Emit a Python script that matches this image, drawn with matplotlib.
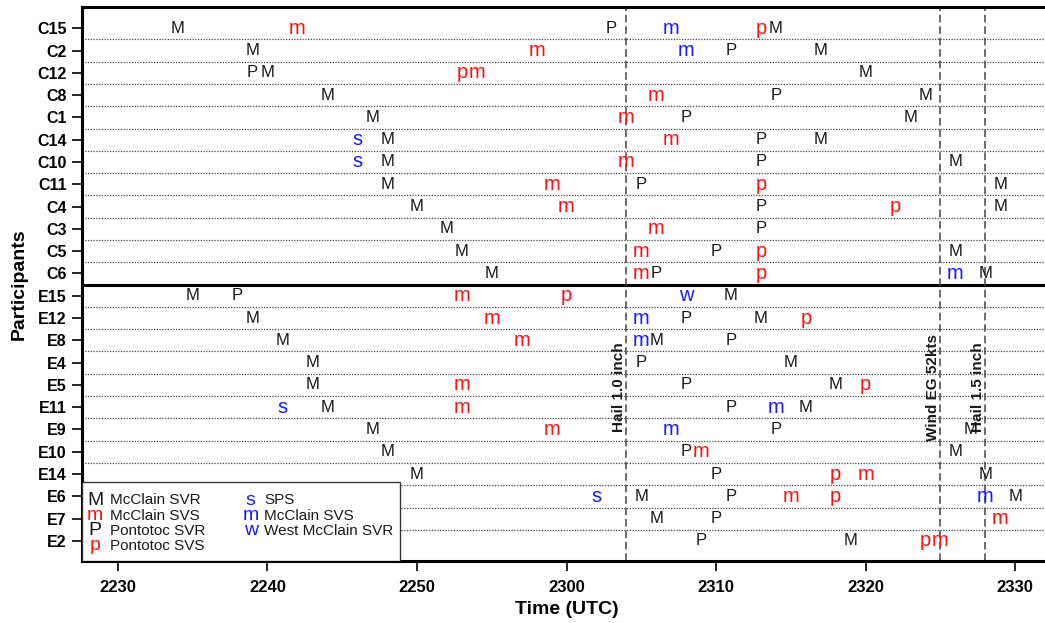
import matplotlib
matplotlib.use("Agg")
import matplotlib.pyplot as plt
from matplotlib.patches import Rectangle

plt.rcParams['font.family'] = ['Liberation Sans', 'DejaVu Sans']

# participants, top to bottom
participants = ['C15', 'C2', 'C12', 'C8', 'C1', 'C14', 'C10', 'C11', 'C4', 'C3', 'C5', 'C6',
                'E15', 'E12', 'E8', 'E4', 'E5', 'E11', 'E9', 'E10', 'E14', 'E6', 'E7', 'E2']

# times (HHMM UTC) at which each product was seen, per participant
mcclain_svr = {
    'C15': [2234, 2314], 'C2': [2239, 2317], 'C12': [2240, 2320], 'C8': [2244, 2324],
    'C1': [2247, 2323], 'C14': [2248, 2317], 'C10': [2248, 2326], 'C11': [2248, 2329],
    'C4': [2250, 2329], 'C3': [2252], 'C5': [2253, 2326], 'C6': [2255, 2328],
    'E15': [2235, 2311], 'E12': [2239, 2313], 'E8': [2241, 2306], 'E4': [2243, 2315],
    'E5': [2243, 2318], 'E11': [2244, 2316], 'E9': [2247, 2327], 'E10': [2248, 2326],
    'E14': [2250, 2328], 'E6': [2305, 2330], 'E7': [2306], 'E2': [2319],
}
mcclain_svs = {
    'C15': [2242], 'C2': [2258], 'C12': [2254], 'C8': [2306], 'C1': [2304], 'C14': [2307],
    'C10': [2304], 'C11': [2259], 'C4': [2300], 'C3': [2306], 'C5': [2305], 'C6': [2305],
    'E15': [2253], 'E12': [2255], 'E8': [2257], 'E5': [2253], 'E11': [2253], 'E9': [2259],
    'E10': [2309], 'E14': [2320], 'E6': [2315], 'E7': [2329], 'E2': [2325],
}
pontotoc_svr = {
    'C15': [2303], 'C2': [2311], 'C12': [2239], 'C8': [2314], 'C1': [2308], 'C14': [2313],
    'C10': [2313], 'C11': [2305], 'C4': [2313], 'C3': [2313], 'C5': [2310], 'C6': [2306],
    'E15': [2238], 'E12': [2308], 'E8': [2311], 'E4': [2305], 'E5': [2308], 'E11': [2311],
    'E9': [2314], 'E10': [2308], 'E14': [2310], 'E6': [2311], 'E7': [2310], 'E2': [2309],
}
pontotoc_svs = {
    'C15': [2313], 'C12': [2253], 'C11': [2313], 'C4': [2322], 'C5': [2313], 'C6': [2313],
    'E15': [2300], 'E12': [2316], 'E5': [2320], 'E14': [2318], 'E6': [2318], 'E2': [2324],
}
sps = {'C14': [2246], 'C10': [2246], 'E11': [2241], 'E6': [2302]}
mcclain_svs_blue = {
    'C15': [2307], 'C2': [2308], 'C6': [2326], 'E12': [2305], 'E8': [2305],
    'E11': [2314], 'E9': [2307], 'E6': [2328],
}
west_mcclain_svr = {'E15': [2308]}

# observed storm reports
report_labels = ['Hail 1.0 inch', 'Wind EG 52kts', 'Hail 1.5 inch']
report_times = [2304, 2325, 2328]

tick_times = [2230, 2240, 2250, 2300, 2310, 2320, 2330]

BLACK = '#1a1a1a'
RED = '#ff1010'
BLUE = '#1a1aff'

products = [
    (mcclain_svr, 'M', BLACK, 12, 'McClain SVR'),
    (mcclain_svs, 'm', RED, 14.5, 'McClain SVS'),
    (pontotoc_svr, 'P', BLACK, 12, 'Pontotoc SVR'),
    (pontotoc_svs, 'p', RED, 14.5, 'Pontotoc SVS'),
    (sps, 's', BLUE, 14.5, 'SPS'),
    (mcclain_svs_blue, 'm', BLUE, 14.5, 'McClain SVS'),
    (west_mcclain_svr, 'w', BLUE, 14.5, 'West McClain SVR'),
]


def minutes(hhmm):
    return (hhmm // 100) * 60 + hhmm % 100 - (22 * 60 + 30)


n = len(participants)
ypos = {p: n - i for i, p in enumerate(participants)}

fig = plt.figure(figsize=(10.45, 6.23), dpi=100)
ax = fig.add_axes([0.0785, 0.0995, 0.9273, 0.8892])

ax.set_xlim(-2.4, 62.4)
ax.set_ylim(0.1, n + 0.95)

# row separators
for k in range(1, n):
    yk = k + 0.5
    if k == 12:
        ax.axhline(yk, color='black', lw=2.2, zorder=2)
    else:
        ax.axhline(yk, color='#444444', lw=0.9, ls=(0, (1, 1.2)), zorder=1)

# storm reports
for lab, t in zip(report_labels, report_times):
    ax.axvline(minutes(t), color='#444444', lw=1.1, ls=(0, (5, 2.5)), zorder=2)
    ax.text(minutes(t), 7.9, lab, rotation=90, ha='right', va='center',
            fontsize=11, fontweight='bold', color=BLACK, zorder=3)

# product letters
for data, sym, col, fs, _ in products:
    for p, times in data.items():
        for t in times:
            ax.text(minutes(t), ypos[p], sym, color=col, fontsize=fs,
                    ha='center', va='center', zorder=4)

ax.set_yticks([ypos[p] for p in participants])
ax.set_yticklabels(participants, fontsize=11.5, fontweight='bold')
ax.set_xticks([minutes(t) for t in tick_times])
ax.set_xticklabels([str(t) for t in tick_times], fontsize=12, fontweight='bold')
ax.tick_params(axis='y', length=7, width=1.2, pad=4)
ax.tick_params(axis='x', length=7, width=1.2, pad=7)

for s in ['left', 'bottom', 'top']:
    ax.spines[s].set_linewidth(2.2)
ax.spines['right'].set_visible(False)

ax.set_xlabel('Time (UTC)', fontsize=14, fontweight='bold', labelpad=4)
ax.set_ylabel('Participants', fontsize=14, fontweight='bold', labelpad=7)

# legend box
ax.add_patch(Rectangle((0, 0), 0.328, 0.1426, transform=ax.transAxes,
                       facecolor='white', edgecolor='#333333', lw=1.0, zorder=5))
col_sym = [0.0134, 0.174]
col_lab = [0.0284, 0.188]
row_y = [0.110, 0.0818, 0.0542, 0.0271]
for i, (_, sym, col, _, lab) in enumerate(products):
    c, r = (0, i) if i < 4 else (1, i - 4)
    ax.text(col_sym[c], row_y[r], sym, color=col, fontsize=14, ha='center',
            va='center', transform=ax.transAxes, zorder=6)
    ax.text(col_lab[c], row_y[r], lab, color=BLACK, fontsize=11, ha='left',
            va='center', transform=ax.transAxes, zorder=6)

fig.savefig('out.png', dpi=100)
